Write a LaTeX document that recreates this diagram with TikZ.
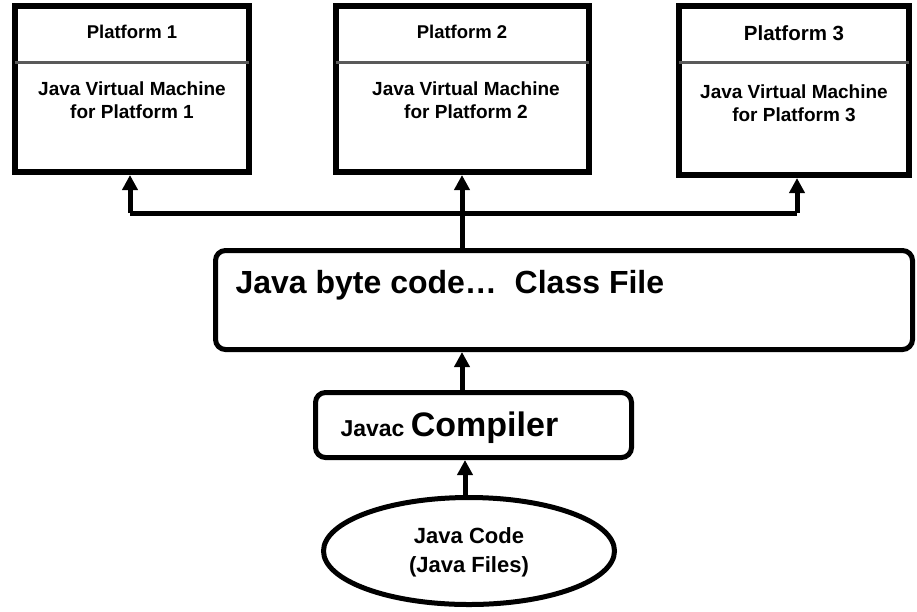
\documentclass[tikz,border=0pt]{standalone}
\usepackage{fontspec}
\setmainfont{Liberation Sans}
\usetikzlibrary{arrows.meta,shapes.geometric}
\definecolor{sepgray}{RGB}{90,90,90}
\tikzset{
  platbox/.style={draw, line width=6pt, minimum width=234pt, minimum height=166pt, inner sep=0pt},
  roundbox/.style={draw, line width=5pt, rounded corners=10pt, inner sep=0pt},
  sepline/.style={draw=sepgray, line width=3pt, shorten <=3pt, shorten >=3pt},
  bus/.style={line width=5pt},
  uparrow/.style={line width=5pt, -{Triangle[width=15pt,length=15pt]}},
  ttl/.style={font=\bfseries\fontsize{18.5}{22}\selectfont},
  body/.style={font=\bfseries\fontsize{19}{23}\selectfont, align=center},
}
\begin{document}
\begin{tikzpicture}[x=1pt,y=-1pt]
\useasboundingbox (0,0) rectangle (917,611);

% platform boxes
\node[platbox] (b1) at (132,89) {};
\node[platbox, minimum width=253pt] (b2) at (462.5,89) {};
\node[platbox, minimum width=230pt, minimum height=169pt] (b3) at (794,90.5) {};

\coordinate (sy) at (0,62);
\draw[sepline] (b1.west |- sy) -- (b1.east |- sy);
\draw[sepline] (b2.west |- sy) -- (b2.east |- sy);
\draw[sepline] (b3.west |- sy) -- (b3.east |- sy);

\node[ttl] (t1) at (132,32) {Platform 1};
\node[ttl] (t2) at (462,32) {Platform 2};
\node[ttl, font=\bfseries\fontsize{20.5}{24}\selectfont] (t3) at (794,33) {Platform 3};

\node[body] (j1) at (132,100) {Java Virtual Machine\\for Platform 1};
\node[body] (j2) at (466,100) {Java Virtual Machine\\for Platform 2};
\node[body] (j3) at (794,103) {Java Virtual Machine\\for Platform 3};

% class file box
\node[roundbox, minimum width=697pt, minimum height=99pt] (cls) at (564,300) {};
\node[anchor=west, font=\bfseries\fontsize{32}{36}\selectfont] (clstxt) at (232,285) {Java byte code…\ \ Class File};

% compiler box
\node[roundbox, minimum width=316pt, minimum height=65pt] (cmp) at (473.5,425) {};
\node[anchor=west, font=\bfseries\fontsize{34}{38}\selectfont] (cmptxt) at (337,428) {{\fontsize{23}{26}\selectfont Javac\ }Compiler};

% source ellipse
\node[draw, ellipse, line width=5pt, minimum width=291pt, minimum height=107pt, inner sep=0pt] (src) at (469,551) {};
\node[font=\bfseries\fontsize{22}{29}\selectfont, align=center] (srctxt) at (469,552) {Java Code\\(Java Files)};

% bus and connectors
\coordinate (bus1) at (130,213);
\coordinate (bus2) at (462,213);
\coordinate (bus3) at (797,213);
\draw[bus] (bus1) -- (bus3);
\draw[uparrow] (bus1) -- (bus1 |- b1.south);
\draw[uparrow] (bus2) -- (bus2 |- b2.south);
\draw[uparrow] (bus3) -- (bus3 |- b3.south);
\draw[bus] (bus2) -- (bus2 |- cls.north);

\coordinate (c1) at (462,0);
\draw[uparrow] (c1 |- cmp.north) -- (c1 |- cls.south);
\coordinate (c2) at (465,0);
\draw[uparrow] (c2 |- src.north) -- (c2 |- cmp.south);
\end{tikzpicture}
\end{document}
